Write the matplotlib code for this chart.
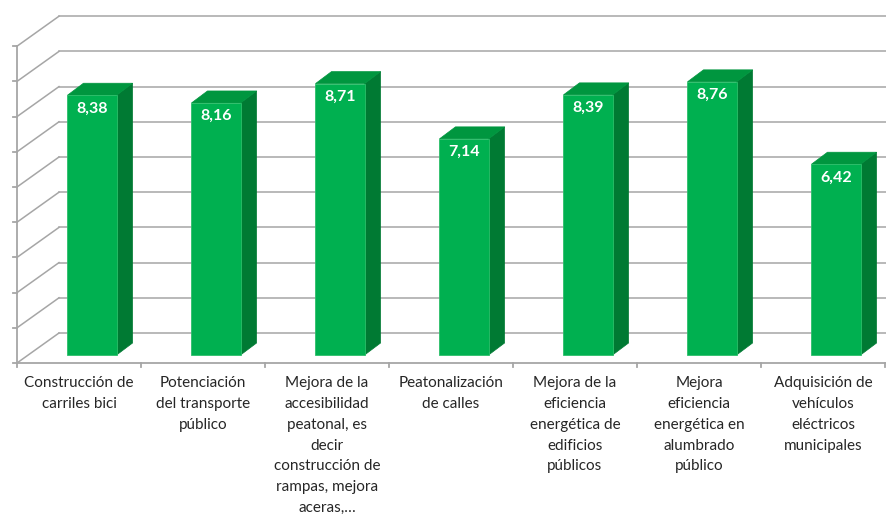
import matplotlib.pyplot as plt
from matplotlib.patches import Polygon, Rectangle

categories = [
    "Construcción de\ncarriles bici",
    "Potenciación\ndel transporte\npúblico",
    "Mejora de la\naccesibilidad\npeatonal, es\ndecir\nconstrucción de\nrampas, mejora\naceras,…",
    "Peatonalización\nde calles",
    "Mejora de la\neficiencia\nenergética de\nedificios\npúblicos",
    "Mejora\neficiencia\nenergética en\nalumbrado\npúblico",
    "Adquisición de\nvehículos\neléctricos\nmunicipales",
]
scores = [8.38, 8.16, 8.71, 7.14, 8.39, 8.76, 6.42]
value_ticks = list(range(1, 11))
y_min, y_max = 1, 10

# pixel geometry of the pseudo-3D frame
PX_CAT = 124.0      # pixels per category
PX_VAL = 35.2       # pixels per score unit
X0_PX, Y0_PX = 17, 363
W, H = 886, 520

wall_dx, wall_dy = 42 / PX_CAT, 30 / PX_VAL
bar_dx, bar_dy = 0.105, 8 / PX_VAL
bar_hw = 0.198
depth_dx, depth_dy = 16 / PX_CAT, 12 / PX_VAL

front = "#00b050"
side = "#007a33"
top = "#00963f"
grid = "#a6a6a6"

fig = plt.figure(figsize=(W / 100, H / 100), dpi=100)
ax = fig.add_axes([0, 0, 1, 1])
ax.set_xlim((0 - X0_PX) / PX_CAT - 0.5, (W - X0_PX) / PX_CAT - 0.5)
ax.set_ylim(y_min - (H - Y0_PX) / PX_VAL, y_min + Y0_PX / PX_VAL)
ax.axis("off")

n = len(categories)
left, right = -0.5, n - 0.5

# back wall gridlines and left wall diagonals
for v in value_ticks:
    ax.plot([left + wall_dx, right + wall_dx], [v + wall_dy, v + wall_dy],
            color=grid, lw=1.1, zorder=1)
    ax.plot([left, left + wall_dx], [v, v + wall_dy], color=grid, lw=1.1, zorder=1)
    ax.plot([left - 4 / PX_CAT, left], [v, v], color=grid, lw=1.3, zorder=1)

# front value axis and floor line
ax.plot([left, left], [y_min, y_max], color=grid, lw=1.3, zorder=1)
ax.plot([left, right], [y_min, y_min], color=grid, lw=1.3, zorder=1)
for i in range(n + 1):
    b = i - 0.5
    ax.plot([b, b], [y_min, y_min - 4 / PX_VAL], color=grid, lw=1.3, zorder=1)

# bars
for i, s in enumerate(scores):
    xl = i + bar_dx - bar_hw
    xr = i + bar_dx + bar_hw
    yb = y_min + bar_dy
    yt = s + bar_dy
    ax.add_patch(Polygon([(xr, yb), (xr + depth_dx, yb + depth_dy),
                          (xr + depth_dx, yt + depth_dy), (xr, yt)],
                         closed=True, facecolor=side, edgecolor=side, lw=0.5, zorder=3))
    ax.add_patch(Polygon([(xl, yt), (xr, yt), (xr + depth_dx, yt + depth_dy),
                          (xl + depth_dx, yt + depth_dy)],
                         closed=True, facecolor=top, edgecolor=top, lw=0.5, zorder=3))
    ax.add_patch(Rectangle((xl, yb), xr - xl, yt - yb, facecolor=front,
                           edgecolor="#2cbf6a", lw=0.6, zorder=4))
    ax.annotate(f"{s:.2f}".replace(".", ","), xy=(i + bar_dx, yt), xytext=(0, -4.5),
                textcoords="offset points", ha="center", va="top",
                color="white", fontsize=11.5, fontweight="bold",
                family="Lato", zorder=5)

# category labels
for i, lab in enumerate(categories):
    ax.annotate(lab, xy=(i, y_min), xytext=(0, -9.5), textcoords="offset points",
                ha="center", va="top", fontsize=11, family="Lato",
                color="#262626", linespacing=1.62)

fig.savefig("out.png", dpi=100, facecolor="white")
